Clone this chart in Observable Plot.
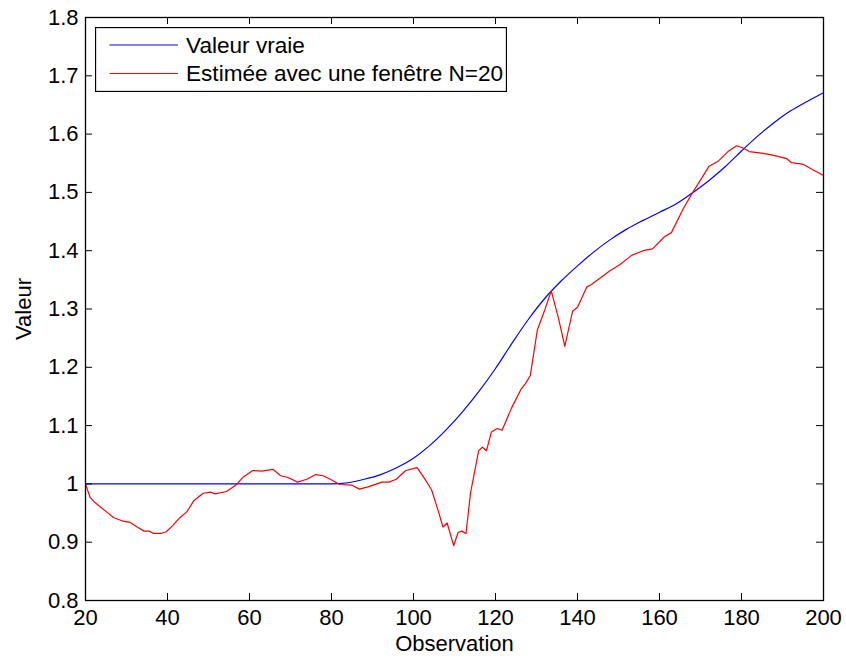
<!DOCTYPE html>
<html>
<head>
<meta charset="utf-8">
<script src="https://cdn.jsdelivr.net/npm/d3@7"></script>
<script src="https://cdn.jsdelivr.net/npm/@observablehq/plot@0.6"></script>
<style>
  body { margin: 0; background: #fff; font-family: "Liberation Sans", Arial, Helvetica, sans-serif; }
  #wrap { position: relative; width: 846px; height: 659px; background: #fff; }
  #legend { position: absolute; left: 95px; top: 27px; }
</style>
</head>
<body>
<div id="wrap"></div>
<script>
// ---- Data ----
const seriesNames = ["Valeur vraie", "Estimée avec une fenêtre N=20"];
const seriesColors = ["#0000ff", "#ff0000"];

const trueX = [20, 80, 84, 88, 92, 96, 100, 104, 108, 112, 116, 120, 124, 128, 132, 136, 140, 144, 148, 152, 156, 160, 164, 168, 172, 176, 180, 184, 188, 192, 196, 200];
const trueY = [1.000, 1.000, 1.002, 1.008, 1.016, 1.028, 1.044, 1.066, 1.093, 1.124, 1.159, 1.198, 1.241, 1.282, 1.318, 1.348, 1.374, 1.398, 1.419, 1.437, 1.452, 1.466, 1.480, 1.499, 1.520, 1.544, 1.571, 1.597, 1.620, 1.640, 1.656, 1.671];

const estX = [20, 21.1, 22.3, 24.6, 26.9, 29.2, 30.9, 32.6, 34.3, 35.5, 36.6, 38.4, 39.7, 41.2, 43, 44.7, 46.4, 48.7, 50.4, 51.6, 54.4, 56.7, 58.5, 60.8, 63, 65.7, 67.6, 69.4, 71.7, 74, 76.2, 78, 79.7, 82, 84.9, 86.8, 88.9, 92.3, 94, 95.8, 98.1, 100.9, 102.7, 104.4, 106.1, 107.2, 108.2, 109.8, 110.9, 111.8, 112.8, 113.9, 115.9, 116.8, 117.8, 119, 120.4, 121.6, 123.9, 126.2, 127.3, 128.5, 130.2, 131.9, 133.6, 135.4, 136.9, 138.8, 140, 142.3, 143.4, 145.7, 148, 150.3, 153.2, 156, 158.3, 161.2, 162.9, 165.8, 168.1, 169.8, 172.1, 174.4, 176.7, 178.8, 180.1, 181.9, 185.3, 187.6, 191, 192.2, 195.1, 197.4, 200];
const estY = [1.000, 0.977, 0.968, 0.955, 0.942, 0.936, 0.934, 0.926, 0.919, 0.919, 0.915, 0.915, 0.918, 0.928, 0.942, 0.952, 0.971, 0.984, 0.986, 0.983, 0.987, 0.998, 1.012, 1.023, 1.022, 1.025, 1.014, 1.011, 1.003, 1.008, 1.016, 1.014, 1.008, 0.999, 0.998, 0.991, 0.995, 1.003, 1.003, 1.008, 1.023, 1.028, 1.009, 0.990, 0.952, 0.926, 0.933, 0.894, 0.917, 0.919, 0.915, 0.984, 1.057, 1.063, 1.057, 1.089, 1.095, 1.092, 1.130, 1.162, 1.172, 1.186, 1.264, 1.296, 1.331, 1.283, 1.236, 1.296, 1.303, 1.338, 1.342, 1.354, 1.366, 1.376, 1.392, 1.400, 1.403, 1.424, 1.431, 1.472, 1.500, 1.519, 1.545, 1.554, 1.570, 1.580, 1.577, 1.570, 1.567, 1.564, 1.558, 1.551, 1.548, 1.539, 1.529];

const xTicks = [20, 40, 60, 80, 100, 120, 140, 160, 180, 200];
const yTicks = [0.8, 0.9, 1.0, 1.1, 1.2, 1.3, 1.4, 1.5, 1.6, 1.7, 1.8];
const xLabel = "Observation";
const yLabel = "Valeur";

// ---- Layout ----
const W = 846, H = 659;
const mTop = 17, mRight = 23, mBottom = 59, mLeft = 85;
const plotH = H - mTop - mBottom, plotW = W - mLeft - mRight;
const tickLen = 7;
const FONT = "Liberation Sans, Arial, Helvetica, sans-serif";

const trueData = trueX.map((x, i) => ({x, y: trueY[i]}));
const estData = estX.map((x, i) => ({x, y: estY[i]}));

const chart = Plot.plot({
  width: W, height: H,
  marginTop: mTop, marginRight: mRight, marginBottom: mBottom, marginLeft: mLeft,
  style: {fontFamily: FONT, fontSize: "22px", background: "#fff", color: "#000", overflow: "visible"},
  x: {domain: [20, 200]},
  y: {domain: [0.8, 1.8]},
  marks: [
    Plot.line(trueData, {x: "x", y: "y", stroke: seriesColors[0], strokeWidth: 1.2, curve: "monotone-x"}),
    Plot.line(estData, {x: "x", y: "y", stroke: seriesColors[1], strokeWidth: 1.2}),
    Plot.ruleX(xTicks, {x: d => d, insetTop: plotH - tickLen, stroke: "#000"}),
    Plot.ruleX(xTicks, {x: d => d, insetBottom: plotH - tickLen, stroke: "#000"}),
    Plot.ruleY(yTicks, {y: d => d, insetRight: plotW - tickLen, stroke: "#000"}),
    Plot.ruleY(yTicks, {y: d => d, insetLeft: plotW - tickLen, stroke: "#000"}),
    Plot.frame({stroke: "#000", strokeWidth: 1.3}),
    Plot.axisX(xTicks, {tickSize: 0, tickPadding: 9, fontSize: 22, label: xLabel, labelAnchor: "center", labelOffset: 50, labelArrow: "none"}),
    Plot.axisY(yTicks, {tickSize: 0, tickPadding: 7, fontSize: 22, tickFormat: d => String(Math.round(d * 10) / 10), label: yLabel, labelAnchor: "center", labelOffset: 70, labelArrow: "none"})
  ]
});
const wrap = document.getElementById("wrap");
wrap.appendChild(chart);

// ---- Legend (inside plot area, top-left) ----
const lw = 412, lh = 65;
const leg = d3.select(wrap).append("svg")
  .attr("id", "legend").attr("width", lw).attr("height", lh)
  .style("font-family", FONT).style("font-size", "22.6px");
leg.append("rect").attr("x", 0.5).attr("y", 0.5).attr("width", lw - 1).attr("height", lh - 1)
  .attr("fill", "#fff").attr("stroke", "#000").attr("stroke-width", 1.3);
seriesNames.forEach((name, i) => {
  const cy = 18 + i * 28.5;
  leg.append("line").attr("x1", 14.5).attr("x2", 83).attr("y1", cy).attr("y2", cy)
    .attr("stroke", seriesColors[i]).attr("stroke-width", 1.2);
  leg.append("text").attr("x", 91).attr("y", cy).attr("dy", "0.35em").attr("fill", "#000").text(name);
});
</script>
</body>
</html>
